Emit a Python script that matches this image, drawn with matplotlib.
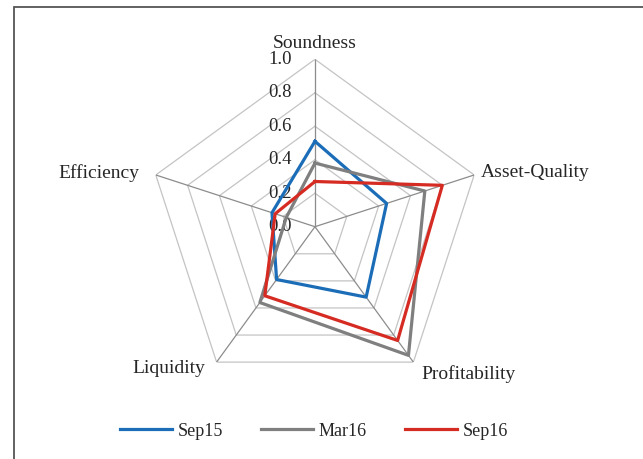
import numpy as np
import matplotlib
matplotlib.use('Agg')
import matplotlib.pyplot as plt

# axes of the radar, clockwise from the top
categories = ['Soundness', 'Asset-Quality', 'Profitability', 'Liquidity', 'Efficiency']
sep15 = [0.51, 0.45, 0.52, 0.39, 0.27]
mar16 = [0.38, 0.69, 0.95, 0.56, 0.18]
sep16 = [0.27, 0.80, 0.84, 0.51, 0.25]
series_names = ['Sep15', 'Mar16', 'Sep16']
ticks = [0.0, 0.2, 0.4, 0.6, 0.8, 1.0]

colors = ['#1b6db8', '#7f7f7f', '#d62b22']
txt_color = '#262626'

plt.rcParams['font.family'] = ['Liberation Serif', 'DejaVu Serif']

fig = plt.figure(figsize=(6.43, 4.59), dpi=100)
ax = fig.add_axes([0.2295, 0.1414, 0.5207, 0.7294], projection='polar')
ax.set_theta_offset(np.pi / 2)
ax.set_theta_direction(-1)
ax.set_ylim(0, 1)
ax.grid(False)
ax.spines['polar'].set_visible(False)
ax.set_xticks([])
ax.set_yticks([])
ax.patch.set_visible(False)

n = len(categories)
angles = np.arange(n) * 2 * np.pi / n
closed = np.append(angles, angles[0])

# pentagon rings
for t in ticks[1:]:
    ax.plot(closed, [t] * (n + 1), color='#c4c4c4', lw=0.9, zorder=1)
# spokes
for a in angles:
    ax.plot([a, a], [0, 1], color='#8c8c8c', lw=0.9, zorder=1)

# tick labels along the Soundness axis
for t in ticks:
    ax.annotate('%.1f' % t, xy=(0, t), xytext=(-16.5, 0), textcoords='offset points',
                ha='right', va='center', fontsize=13.5, color=txt_color)

# category labels
offsets = [((0, 11.5), 'center', 'center'),
           ((4.5, 1.5), 'left', 'center'),
           ((5.5, -2.5), 'left', 'top'),
           ((-8.5, -4.5), 'right', 'center'),
           ((-12, 1.5), 'right', 'center')]
for a, name, (off, ha, va) in zip(angles, categories, offsets):
    ax.annotate(name, xy=(a, 1), xytext=off, textcoords='offset points',
                ha=ha, va=va, fontsize=14, color=txt_color)

for vals, name, c in zip([sep15, mar16, sep16], series_names, colors):
    ax.plot(closed, vals + vals[:1], color=c, lw=2.3, label=name, zorder=3)

fig.legend(loc='center', bbox_to_anchor=(314 / 643, 1 - 431 / 459), ncol=3,
           frameon=False, fontsize=13, handlelength=2.9, handletextpad=0.3,
           columnspacing=2.1, labelcolor=txt_color)

# chart frame (cut off at the right and bottom)
fig.patches.append(plt.Rectangle((13.5 / 643, -0.1), 1.2, 1.1 - 7.5 / 459,
                                 transform=fig.transFigure, fill=False,
                                 ec='#555555', lw=1.3))

fig.savefig('out.png', dpi=100)
